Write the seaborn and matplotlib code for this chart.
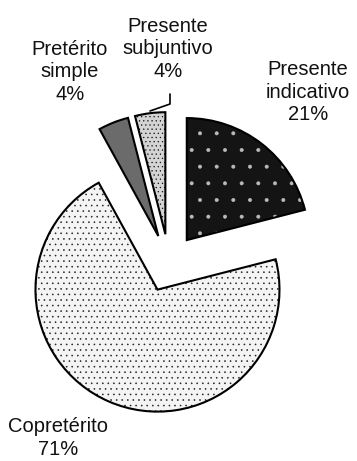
import matplotlib
matplotlib.use("Agg")
import matplotlib.pyplot as plt
import seaborn as sns

# Distribution of verb tenses
categories = ["Presente indicativo", "Copretérito", "Pretérito simple", "Presente subjuntivo"]
shares = [21, 71, 4, 4]
label_texts = ["Presente\nindicativo\n21%", "Copretérito\n71%", "Pretérito\nsimple\n4%", "Presente\nsubjuntivo\n4%"]

sns.set_theme(style="white")
plt.rcParams["font.family"] = ["Liberation Sans", "DejaVu Sans"]
plt.rcParams["hatch.linewidth"] = 0.4

W, H = 357, 461
fig = plt.figure(figsize=(W / 100, H / 100), dpi=100)
ax = fig.add_axes([0, 0, 1, 1])

center = (169, H - 263)
radius = 122
explode = [29] * len(shares)   # offsets in data units (pixels here)

fills = ["#141414", "#f4f4f4", "#6b6b6b", "#d4d4d4"]
hatch_colors = ["#bbbbbb", "#222222", "#6b6b6b", "#111111"]
hatches = [".", "...", None, "...."]

# fill pass: colours and dot patterns
wedges, _ = ax.pie(shares, startangle=90, counterclock=False, explode=explode,
                   radius=radius, center=center, colors=fills,
                   wedgeprops=dict(linewidth=0))
for w, hc, ht in zip(wedges, hatch_colors, hatches):
    w.set_edgecolor(hc)
    if ht:
        w.set_hatch(ht)

# outline pass
ax.pie(shares, startangle=90, counterclock=False, explode=explode,
       radius=radius, center=center,
       wedgeprops=dict(fill=False, edgecolor="black", linewidth=1.5))

label_pos = [(308, 92), (58, 438), (70, 72), (168, 49)]
for txt, (x, y) in zip(label_texts, label_pos):
    ax.text(x, H - y, txt, ha="center", va="center", fontsize=14.5,
            linespacing=1.25, color="#111111")

# leader line for the small subjunctive slice
ax.plot([170, 170, 150], [H - 94, H - 104, H - 111], color="black", lw=1.2)

ax.set_xlim(0, W)
ax.set_ylim(0, H)
ax.set_aspect("equal")
ax.axis("off")

fig.savefig("out.png", dpi=100, facecolor="white")
